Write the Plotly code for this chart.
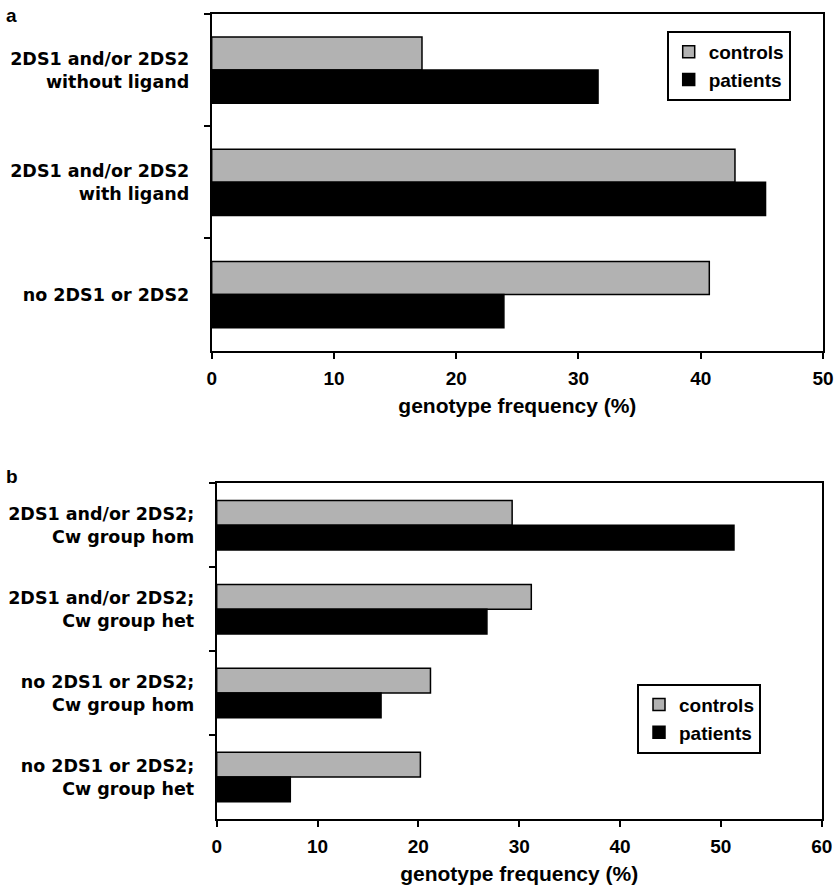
import plotly.graph_objects as go

# ---- data ----
categories_a = ["2DS1 and/or 2DS2<br>without ligand",
                "2DS1 and/or 2DS2<br>with ligand",
                "no 2DS1 or 2DS2"]
controls_a = [17.2, 42.8, 40.7]
patients_a = [31.6, 45.3, 23.9]

categories_b = ["2DS1 and/or 2DS2;<br>Cw group hom",
                "2DS1 and/or 2DS2;<br>Cw group het",
                "no 2DS1 or 2DS2;<br>Cw group hom",
                "no 2DS1 or 2DS2;<br>Cw group het"]
controls_b = [29.3, 31.2, 21.2, 20.2]
patients_b = [51.3, 26.8, 16.3, 7.3]

xticks_a = [0, 10, 20, 30, 40, 50]
xticks_b = [0, 10, 20, 30, 40, 50, 60]
x_title = "genotype frequency (%)"

GRAY = "#b2b2b2"
BLACK = "#000000"
SANS = "Liberation Sans, Arial, sans-serif"
WIDE = "DejaVu Sans, Verdana, sans-serif"

fig = go.Figure()

fig.add_trace(go.Bar(y=categories_a, x=controls_a, orientation="h", name="controls",
                     marker=dict(color=GRAY, line=dict(color=BLACK, width=1.5)),
                     xaxis="x", yaxis="y", legend="legend"))
fig.add_trace(go.Bar(y=categories_a, x=patients_a, orientation="h", name="patients",
                     marker=dict(color=BLACK, line=dict(color=BLACK, width=1.5)),
                     xaxis="x", yaxis="y", legend="legend"))
fig.add_trace(go.Bar(y=categories_b, x=controls_b, orientation="h", name="controls",
                     marker=dict(color=GRAY, line=dict(color=BLACK, width=1.5)),
                     xaxis="x2", yaxis="y2", legend="legend2"))
fig.add_trace(go.Bar(y=categories_b, x=patients_b, orientation="h", name="patients",
                     marker=dict(color=BLACK, line=dict(color=BLACK, width=1.5)),
                     xaxis="x2", yaxis="y2", legend="legend2"))

W, H = 840, 895

def xa(domain, ticks, anchor):
    return dict(domain=domain, anchor=anchor, range=[ticks[0], ticks[-1]],
                tickvals=ticks, ticktext=[str(t) for t in ticks],
                showgrid=False, zeroline=False, showline=True, linecolor=BLACK,
                linewidth=2, mirror=True, ticks="outside", ticklen=6, tickwidth=2,
                tickcolor=BLACK, automargin=False, ticklabelstandoff=3,
                tickfont=dict(family=SANS, size=19, color=BLACK, weight="bold"),
                title=dict(text=x_title, standoff=11,
                           font=dict(family=SANS, size=21, color=BLACK, weight="bold")))

def ya(domain, anchor):
    return dict(domain=domain, anchor=anchor, autorange="reversed", type="category",
                showgrid=False, zeroline=False, showline=True, linecolor=BLACK,
                linewidth=2, mirror=True, ticks="outside", ticklen=6, tickwidth=2,
                tickcolor=BLACK, tickson="boundaries", automargin=False,
                ticklabelstandoff=17,
                tickfont=dict(family=WIDE, size=17.5, color=BLACK, weight="bold"))

fig.update_layout(
    width=W, height=H,
    margin=dict(l=0, r=0, t=0, b=0),
    paper_bgcolor="white", plot_bgcolor="white",
    barmode="group", bargap=0.41, bargroupgap=0,
    xaxis=xa([211.7 / W, 823.0 / W], xticks_a, "y"),
    yaxis=ya([1 - 350.7 / H, 1 - 14.0 / H], "x"),
    xaxis2=xa([216.7 / W, 821.7 / W], xticks_b, "y2"),
    yaxis2=ya([1 - 819.0 / H, 1 - 483.3 / H], "x2"),
    legend=dict(x=790.7 / W, y=1 - 31 / H, xanchor="right", yanchor="top",
                bgcolor="white", bordercolor=BLACK, borderwidth=2,
                font=dict(family=SANS, size=19, color=BLACK, weight="bold"),
                traceorder="normal", tracegroupgap=0, itemwidth=30),
    legend2=dict(x=761 / W, y=1 - 683.7 / H, xanchor="right", yanchor="top",
                 bgcolor="white", bordercolor=BLACK, borderwidth=2,
                 font=dict(family=SANS, size=19, color=BLACK, weight="bold"),
                 traceorder="normal", tracegroupgap=0, itemwidth=30),
    annotations=[
        dict(text="a", x=4 / W, y=1 - 3 / H, xref="paper", yref="paper",
             xanchor="left", yanchor="top", showarrow=False,
             font=dict(family=SANS, size=19, color=BLACK, weight="bold")),
        dict(text="b", x=4 / W, y=1 - 464 / H, xref="paper", yref="paper",
             xanchor="left", yanchor="top", showarrow=False,
             font=dict(family=SANS, size=19, color=BLACK, weight="bold")),
    ],
)

fig.write_html("out.html", config={"displayModeBar": False},
               post_script="document.body.style.margin='0px';")
